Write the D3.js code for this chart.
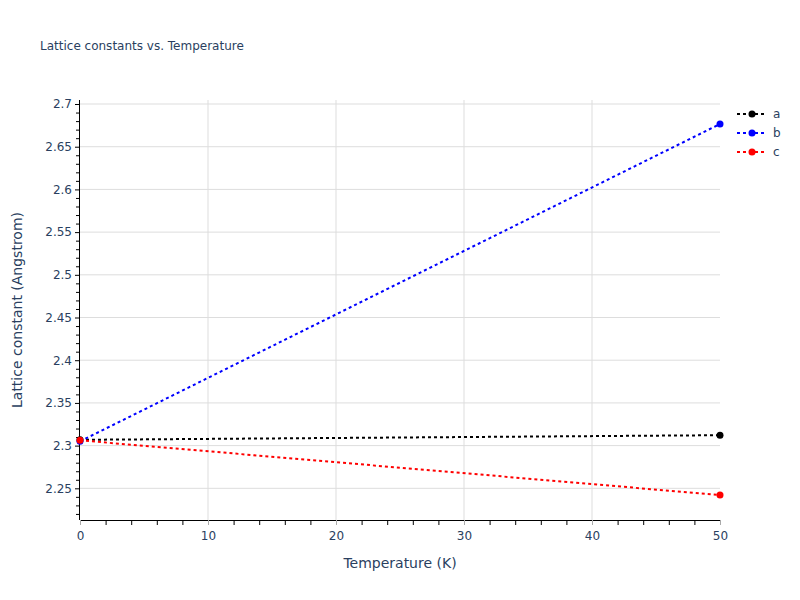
<!DOCTYPE html>
<html>
<head>
<meta charset="utf-8">
<title>Lattice constants vs. Temperature</title>
<script src="https://cdn.jsdelivr.net/npm/d3@7/dist/d3.min.js"></script>
<style>
	body { margin: 0; background: #fff; }
	text { font-family: "DejaVu Sans", verdana, arial, sans-serif; fill: #2a3f5f; }
</style>
</head>
<body>
<div id="chart"></div>
<script>
/* data */
var temperatures = [0, 50];
var series_names = ["a", "b", "c"];
var series_colors = ["black", "blue", "red"];
var a_values = [2.3068, 2.3122];
var b_values = [2.3050, 2.6766];
var c_values = [2.3062, 2.2421];
var x_ticks = [0, 10, 20, 30, 40, 50];
var y_ticks = [2.25, 2.3, 2.35, 2.4, 2.45, 2.5, 2.55, 2.6, 2.65, 2.7];

var w = 800, h = 600;
var p_left = 80, p_right = 720, p_top = 100, p_bottom = 520;

var svg = d3.select("#chart").append("svg").attr("width", w).attr("height", h);

var x_scale = d3.scaleLinear().domain([0, 50]).range([p_left, p_right]);
var y_scale = d3.scaleLinear().domain([2.2129, 2.7047]).range([p_bottom, p_top]);

/* grid */
svg.append("g").selectAll("line").data(x_ticks.slice(1, -1)).enter().append("line")
	.attr("x1", function(d){ return x_scale(d); }).attr("x2", function(d){ return x_scale(d); })
	.attr("y1", p_top).attr("y2", p_bottom)
	.attr("stroke", "#dddddd").attr("stroke-width", 1);
svg.append("g").selectAll("line").data(y_ticks).enter().append("line")
	.attr("x1", p_left).attr("x2", p_right)
	.attr("y1", function(d){ return y_scale(d); }).attr("y2", function(d){ return y_scale(d); })
	.attr("stroke", "#dddddd").attr("stroke-width", 1);

/* minor ticks */
var x_minor = d3.range(0, 51, 2).filter(function(d){ return d % 10 != 0; });
var y_minor = d3.range(222, 271).map(function(d){ return d / 100; }).filter(function(d){ return Math.round(d * 100) % 5 != 0; });

var x_axis = d3.axisBottom(x_scale).tickValues(x_minor).tickSize(5).tickFormat("");
var gx = svg.append("g").attr("transform", "translate(0," + p_bottom + ")").call(x_axis);
gx.select(".domain").attr("stroke", "#000").attr("d", "M" + p_left + ",0.5H" + p_right);
gx.selectAll(".tick line").attr("stroke", "#000");

var y_axis = d3.axisLeft(y_scale).tickValues(y_minor).tickSize(4).tickFormat("");
var gy = svg.append("g").attr("transform", "translate(" + p_left + ",0)").call(y_axis);
gy.select(".domain").attr("stroke", "#000").attr("d", "M-0.5," + p_top + "V" + p_bottom);
gy.selectAll(".tick line").attr("stroke", "#000");

/* major ticks and labels */
var x_major = d3.axisBottom(x_scale).tickValues(x_ticks).tickSize(5).tickPadding(6).tickFormat(d3.format("d"));
var gxm = svg.append("g").attr("transform", "translate(0," + p_bottom + ")").call(x_major);
gxm.select(".domain").remove();
gxm.selectAll(".tick line").attr("stroke", "#aaaaaa");
gxm.selectAll(".tick text").attr("font-size", 12).style("fill", "#2a3f5f");

var y_major = d3.axisLeft(y_scale).tickValues(y_ticks).tickSize(5).tickPadding(3).tickFormat(function(d){ return d3.format("")(+d.toFixed(2)); });
var gym = svg.append("g").attr("transform", "translate(" + p_left + ",0)").call(y_major);
gym.select(".domain").remove();
gym.selectAll(".tick line").attr("stroke", "#000");
gym.selectAll(".tick text").attr("font-size", 12).style("fill", "#2a3f5f");

/* lines */
var all_values = [a_values, b_values, c_values];
var line = d3.line().x(function(d){ return x_scale(d[0]); }).y(function(d){ return y_scale(d[1]); });
all_values.forEach(function(vals, i){
	var pts = temperatures.map(function(t, j){ return [t, vals[j]]; });
	svg.append("path").attr("d", line(pts)).attr("fill", "none")
		.attr("stroke", series_colors[i]).attr("stroke-width", 2).attr("stroke-dasharray", "3,3");
	svg.append("g").selectAll("circle").data(pts).enter().append("circle")
		.attr("cx", function(d){ return x_scale(d[0]); }).attr("cy", function(d){ return y_scale(d[1]); })
		.attr("r", 3.5).attr("fill", series_colors[i]);
});

/* legend */
series_names.forEach(function(name, i){
	var ly = 114 + 19 * i;
	var lg = svg.append("g");
	lg.append("line").attr("x1", 737).attr("x2", 767).attr("y1", ly).attr("y2", ly)
		.attr("stroke", series_colors[i]).attr("stroke-width", 2).attr("stroke-dasharray", "3,3");
	lg.append("circle").attr("cx", 752).attr("cy", ly).attr("r", 3.5).attr("fill", series_colors[i]);
	lg.append("text").attr("x", 773).attr("y", ly + 4).attr("font-size", 12).text(name);
});

/* titles */
svg.append("text").attr("x", 40).attr("y", 50).attr("font-size", 12).text("Lattice constants vs. Temperature");
svg.append("text").attr("x", 400).attr("y", 568).attr("text-anchor", "middle").attr("font-size", 14).text("Temperature (K)");
svg.append("text").attr("transform", "translate(22,310) rotate(-90)").attr("text-anchor", "middle")
	.attr("font-size", 14).text("Lattice constant (Angstrom)");
</script>
</body>
</html>
